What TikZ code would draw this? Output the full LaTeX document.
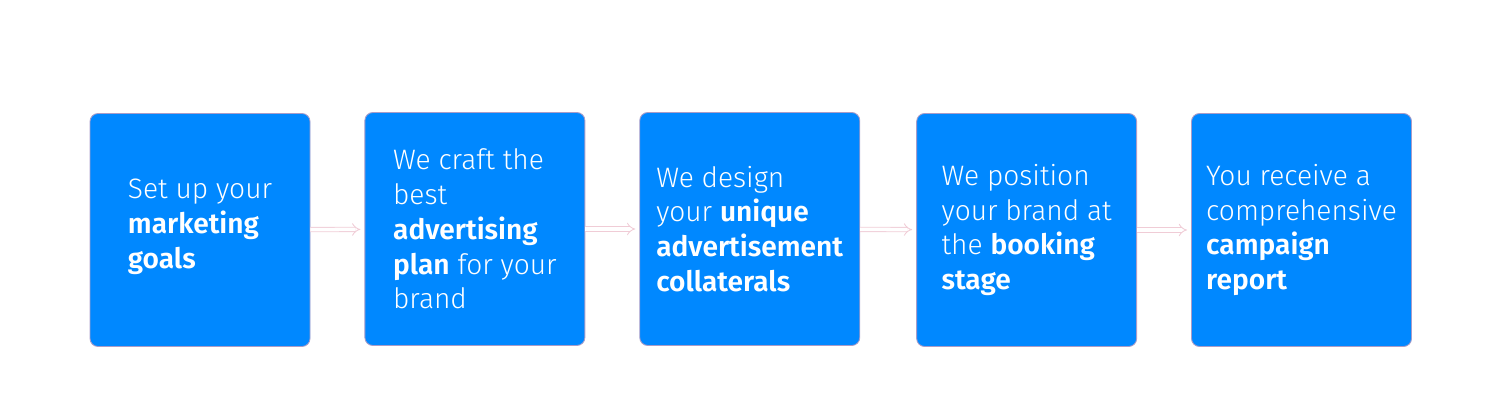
\documentclass[tikz,border=0pt]{standalone}
\usepackage{fontspec}
\setmainfont{Fira Sans Light}[BoldFont=Fira Sans SemiBold]
\usetikzlibrary{arrows.meta,positioning}

\definecolor{stepblue}{HTML}{0088FF}
\definecolor{stepedge}{HTML}{A99CC8}
\definecolor{arrowpink}{HTML}{F0CCD6}

\tikzset{
  stepbox/.style={draw=stepedge, line width=0.5pt, fill=stepblue, rounded corners=0.16cm,
    minimum width=4.4cm, minimum height=4.66cm, align=left, text=white,
    font=\fontsize{16}{19.8}\selectfont, inner sep=0pt},
  flowarrow/.style={draw=arrowpink, double=white, double distance=2pt, line width=0.5pt,
    -Implies, shorten >=0.08cm}
}

\begin{document}
\begin{tikzpicture}
  \useasboundingbox (0, 0) rectangle (30, 8.34);

  % die fuenf Schritte
  \node[stepbox] (goals) at (4.0, 3.74) {Set up your\\ \textbf{marketing}\\ \textbf{goals}\\[-0.45cm]};
  \node[stepbox, right=1.08cm of goals, yshift=0.02cm] (plan) {We craft the\\ best\\ \textbf{advertising}\\ \textbf{plan} for your\\ brand};
  \node[stepbox, right=1.08cm of plan] (design) {We design\\ your \textbf{unique}\\ \textbf{advertisement}\\ \textbf{collaterals}};
  \node[stepbox, right=1.12cm of design, yshift=-0.02cm] (position) {We position\\ your brand at\\ the \textbf{booking}\\ \textbf{stage}};
  \node[stepbox, right=1.08cm of position] (report) {You receive a\\ comprehensive\\ \textbf{campaign}\\ \textbf{report}};

  % Pfeile
  \draw[flowarrow] (goals) -- (plan);
  \draw[flowarrow] (plan) -- (design);
  \draw[flowarrow] (design) -- (position);
  \draw[flowarrow] (position) -- (report);
\end{tikzpicture}
\end{document}
